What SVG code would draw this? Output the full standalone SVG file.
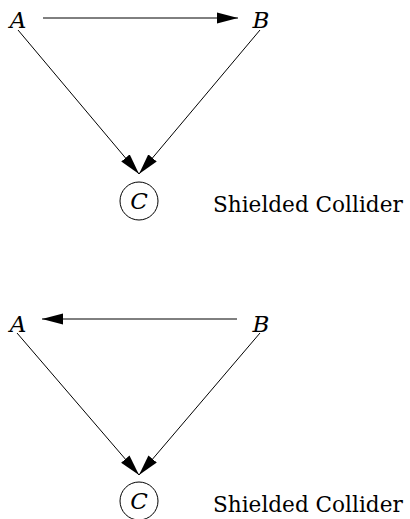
<svg xmlns="http://www.w3.org/2000/svg" width="410" height="519" viewBox="0 0 410 519">
<style>
.lbl{font-family:'DejaVu Serif',serif;font-style:italic;font-size:23px;fill:#000}
.cap{font-family:'DejaVu Serif',serif;font-size:21.6px;fill:#000}
.edge{stroke:#000;stroke-width:1;fill:none}
.node-circle{stroke:#000;stroke-width:1;fill:none}
</style>
<defs>
<marker id="ah" markerWidth="22" markerHeight="12" refX="21" refY="6" orient="auto" markerUnits="userSpaceOnUse">
<path d="M0,0.5 L21,6 L0,11.5 Z" fill="#000"/>
</marker>
</defs>
<rect width="410" height="519" fill="#fff"/>
<g id="connectors">
<line class="edge" x1="43" y1="18" x2="238" y2="18" marker-end="url(#ah)"/>
<line class="edge" x1="18" y1="30" x2="139" y2="174" marker-end="url(#ah)"/>
<line class="edge" x1="260" y1="30" x2="139" y2="174" marker-end="url(#ah)"/>
<line class="edge" x1="237" y1="319" x2="42" y2="319" marker-end="url(#ah)"/>
<line class="edge" x1="17" y1="333" x2="139" y2="475" marker-end="url(#ah)"/>
<line class="edge" x1="260" y1="333" x2="139" y2="475" marker-end="url(#ah)"/>
</g>
<g id="A1"><text class="lbl" x="18" y="28" text-anchor="middle">A</text></g>
<g id="B1"><text class="lbl" x="261" y="28" text-anchor="middle">B</text></g>
<g id="C1"><circle class="node-circle" cx="139" cy="201" r="19"/><text class="lbl" x="139" y="209" text-anchor="middle">C</text></g>
<g id="label1"><text class="cap" x="213" y="212">Shielded Collider</text></g>
<g id="A2"><text class="lbl" x="18" y="332" text-anchor="middle">A</text></g>
<g id="B2"><text class="lbl" x="261" y="332" text-anchor="middle">B</text></g>
<g id="C2"><circle class="node-circle" cx="139" cy="501" r="19"/><text class="lbl" x="139" y="509" text-anchor="middle">C</text></g>
<g id="label2"><text class="cap" x="213" y="512">Shielded Collider</text></g>
</svg>
